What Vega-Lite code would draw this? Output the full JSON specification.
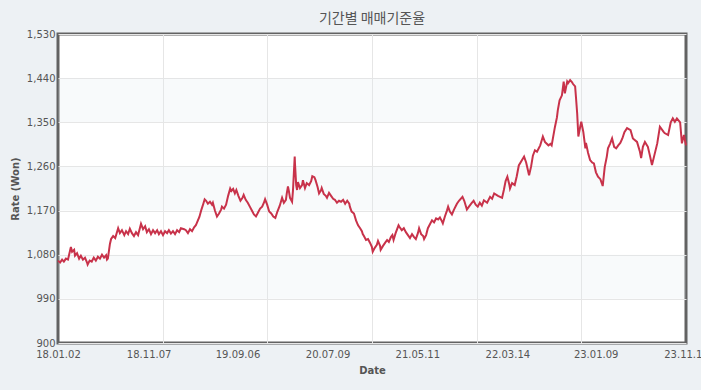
{
  "$schema": "https://vega.github.io/schema/vega-lite/v6.json",
  "width": 628,
  "height": 309,
  "autosize": {"type": "none"},
  "padding": {"left": 58, "top": 34, "right": 15, "bottom": 47},
  "background": "#edf1f4",
  "title": {"text": "기간별 매매기준율", "font": "Noto Sans CJK KR", "fontSize": 14, "fontWeight": "normal", "color": "#555555", "anchor": "middle", "frame": "group", "offset": 3},
  "config": {
    "view": {"fill": "#ffffff", "stroke": "#626262", "strokeWidth": 3},
    "axis": {"labelFont": "DejaVu Sans", "labelFontSize": 10, "labelColor": "#555555", "titleFont": "DejaVu Sans", "titleFontSize": 10, "titleFontWeight": "bold", "titleColor": "#555555", "ticks": false, "domain": false, "gridColor": "#e6e6e6", "gridWidth": 1}
  },
  "datasets": {
    "bands": [{"lo": 990, "hi": 1080}, {"lo": 1170, "hi": 1260}, {"lo": 1350, "hi": 1440}],
    "rates": [
      {"date": "2018-01-02", "rate": 1068}, {"date": "2018-01-09", "rate": 1064}, {"date": "2018-01-16", "rate": 1070}, {"date": "2018-01-22", "rate": 1066}, {"date": "2018-01-29", "rate": 1072}, {"date": "2018-02-05", "rate": 1070}, {"date": "2018-02-12", "rate": 1088}, {"date": "2018-02-15", "rate": 1096}, {"date": "2018-02-19", "rate": 1086}, {"date": "2018-02-26", "rate": 1090}, {"date": "2018-03-01", "rate": 1078}, {"date": "2018-03-08", "rate": 1083}, {"date": "2018-03-15", "rate": 1072}, {"date": "2018-03-21", "rate": 1078}, {"date": "2018-03-28", "rate": 1070}, {"date": "2018-04-04", "rate": 1074}, {"date": "2018-04-11", "rate": 1064}, {"date": "2018-04-13", "rate": 1060}, {"date": "2018-04-20", "rate": 1068}, {"date": "2018-04-27", "rate": 1066}, {"date": "2018-05-04", "rate": 1074}, {"date": "2018-05-11", "rate": 1068}, {"date": "2018-05-18", "rate": 1076}, {"date": "2018-05-25", "rate": 1072}, {"date": "2018-06-01", "rate": 1080}, {"date": "2018-06-08", "rate": 1074}, {"date": "2018-06-15", "rate": 1079}, {"date": "2018-06-18", "rate": 1070}, {"date": "2018-06-21", "rate": 1072}, {"date": "2018-06-28", "rate": 1102}, {"date": "2018-07-02", "rate": 1112}, {"date": "2018-07-09", "rate": 1118}, {"date": "2018-07-16", "rate": 1114}, {"date": "2018-07-23", "rate": 1128}, {"date": "2018-07-26", "rate": 1134}, {"date": "2018-08-01", "rate": 1124}, {"date": "2018-08-08", "rate": 1130}, {"date": "2018-08-16", "rate": 1120}, {"date": "2018-08-22", "rate": 1128}, {"date": "2018-08-29", "rate": 1122}, {"date": "2018-09-04", "rate": 1133}, {"date": "2018-09-11", "rate": 1124}, {"date": "2018-09-18", "rate": 1118}, {"date": "2018-09-25", "rate": 1126}, {"date": "2018-10-02", "rate": 1120}, {"date": "2018-10-09", "rate": 1136}, {"date": "2018-10-12", "rate": 1143}, {"date": "2018-10-19", "rate": 1132}, {"date": "2018-10-26", "rate": 1138}, {"date": "2018-11-01", "rate": 1126}, {"date": "2018-11-08", "rate": 1132}, {"date": "2018-11-15", "rate": 1122}, {"date": "2018-11-22", "rate": 1130}, {"date": "2018-11-29", "rate": 1124}, {"date": "2018-12-06", "rate": 1130}, {"date": "2018-12-12", "rate": 1122}, {"date": "2018-12-19", "rate": 1128}, {"date": "2018-12-26", "rate": 1120}, {"date": "2019-01-02", "rate": 1128}, {"date": "2019-01-09", "rate": 1124}, {"date": "2019-01-15", "rate": 1130}, {"date": "2019-01-22", "rate": 1123}, {"date": "2019-01-29", "rate": 1128}, {"date": "2019-02-05", "rate": 1122}, {"date": "2019-02-12", "rate": 1130}, {"date": "2019-02-19", "rate": 1126}, {"date": "2019-02-25", "rate": 1134}, {"date": "2019-03-08", "rate": 1132}, {"date": "2019-03-14", "rate": 1130}, {"date": "2019-03-21", "rate": 1124}, {"date": "2019-03-28", "rate": 1132}, {"date": "2019-04-04", "rate": 1128}, {"date": "2019-04-11", "rate": 1136}, {"date": "2019-04-17", "rate": 1140}, {"date": "2019-04-24", "rate": 1150}, {"date": "2019-04-29", "rate": 1157}, {"date": "2019-05-06", "rate": 1172}, {"date": "2019-05-13", "rate": 1185}, {"date": "2019-05-17", "rate": 1193}, {"date": "2019-05-22", "rate": 1190}, {"date": "2019-05-28", "rate": 1184}, {"date": "2019-06-04", "rate": 1188}, {"date": "2019-06-11", "rate": 1182}, {"date": "2019-06-14", "rate": 1186}, {"date": "2019-06-21", "rate": 1170}, {"date": "2019-06-28", "rate": 1158}, {"date": "2019-07-05", "rate": 1164}, {"date": "2019-07-12", "rate": 1172}, {"date": "2019-07-15", "rate": 1178}, {"date": "2019-07-22", "rate": 1174}, {"date": "2019-07-29", "rate": 1182}, {"date": "2019-08-05", "rate": 1200}, {"date": "2019-08-12", "rate": 1215}, {"date": "2019-08-16", "rate": 1210}, {"date": "2019-08-22", "rate": 1214}, {"date": "2019-08-28", "rate": 1205}, {"date": "2019-09-02", "rate": 1212}, {"date": "2019-09-09", "rate": 1200}, {"date": "2019-09-16", "rate": 1190}, {"date": "2019-09-23", "rate": 1196}, {"date": "2019-09-27", "rate": 1202}, {"date": "2019-10-04", "rate": 1192}, {"date": "2019-10-11", "rate": 1186}, {"date": "2019-10-18", "rate": 1178}, {"date": "2019-10-25", "rate": 1170}, {"date": "2019-11-01", "rate": 1162}, {"date": "2019-11-08", "rate": 1158}, {"date": "2019-11-15", "rate": 1166}, {"date": "2019-11-22", "rate": 1174}, {"date": "2019-11-29", "rate": 1178}, {"date": "2019-12-05", "rate": 1186}, {"date": "2019-12-09", "rate": 1193}, {"date": "2019-12-16", "rate": 1182}, {"date": "2019-12-23", "rate": 1168}, {"date": "2019-12-30", "rate": 1164}, {"date": "2020-01-06", "rate": 1158}, {"date": "2020-01-13", "rate": 1155}, {"date": "2020-01-20", "rate": 1168}, {"date": "2020-01-28", "rate": 1180}, {"date": "2020-02-03", "rate": 1192}, {"date": "2020-02-05", "rate": 1196}, {"date": "2020-02-11", "rate": 1186}, {"date": "2020-02-18", "rate": 1192}, {"date": "2020-02-21", "rate": 1205}, {"date": "2020-02-25", "rate": 1219}, {"date": "2020-02-28", "rate": 1210}, {"date": "2020-03-03", "rate": 1196}, {"date": "2020-03-10", "rate": 1188}, {"date": "2020-03-13", "rate": 1210}, {"date": "2020-03-19", "rate": 1280}, {"date": "2020-03-20", "rate": 1265}, {"date": "2020-03-24", "rate": 1222}, {"date": "2020-03-27", "rate": 1212}, {"date": "2020-03-30", "rate": 1228}, {"date": "2020-04-06", "rate": 1216}, {"date": "2020-04-13", "rate": 1222}, {"date": "2020-04-16", "rate": 1232}, {"date": "2020-04-23", "rate": 1216}, {"date": "2020-04-29", "rate": 1226}, {"date": "2020-05-07", "rate": 1222}, {"date": "2020-05-14", "rate": 1230}, {"date": "2020-05-18", "rate": 1240}, {"date": "2020-05-25", "rate": 1238}, {"date": "2020-05-29", "rate": 1232}, {"date": "2020-06-05", "rate": 1218}, {"date": "2020-06-10", "rate": 1205}, {"date": "2020-06-17", "rate": 1212}, {"date": "2020-06-19", "rate": 1216}, {"date": "2020-06-26", "rate": 1204}, {"date": "2020-07-03", "rate": 1200}, {"date": "2020-07-07", "rate": 1196}, {"date": "2020-07-14", "rate": 1206}, {"date": "2020-07-21", "rate": 1200}, {"date": "2020-07-28", "rate": 1194}, {"date": "2020-08-03", "rate": 1192}, {"date": "2020-08-10", "rate": 1186}, {"date": "2020-08-17", "rate": 1190}, {"date": "2020-08-24", "rate": 1188}, {"date": "2020-08-31", "rate": 1192}, {"date": "2020-09-07", "rate": 1184}, {"date": "2020-09-14", "rate": 1190}, {"date": "2020-09-21", "rate": 1184}, {"date": "2020-09-23", "rate": 1178}, {"date": "2020-09-29", "rate": 1168}, {"date": "2020-10-07", "rate": 1164}, {"date": "2020-10-14", "rate": 1150}, {"date": "2020-10-21", "rate": 1140}, {"date": "2020-10-28", "rate": 1134}, {"date": "2020-11-03", "rate": 1128}, {"date": "2020-11-06", "rate": 1122}, {"date": "2020-11-10", "rate": 1118}, {"date": "2020-11-17", "rate": 1110}, {"date": "2020-11-24", "rate": 1112}, {"date": "2020-12-01", "rate": 1104}, {"date": "2020-12-07", "rate": 1096}, {"date": "2020-12-10", "rate": 1086}, {"date": "2020-12-17", "rate": 1094}, {"date": "2020-12-24", "rate": 1100}, {"date": "2020-12-28", "rate": 1108}, {"date": "2021-01-04", "rate": 1098}, {"date": "2021-01-06", "rate": 1090}, {"date": "2021-01-14", "rate": 1098}, {"date": "2021-01-21", "rate": 1104}, {"date": "2021-01-28", "rate": 1110}, {"date": "2021-02-03", "rate": 1106}, {"date": "2021-02-10", "rate": 1116}, {"date": "2021-02-15", "rate": 1120}, {"date": "2021-02-19", "rate": 1110}, {"date": "2021-02-26", "rate": 1124}, {"date": "2021-03-08", "rate": 1140}, {"date": "2021-03-12", "rate": 1136}, {"date": "2021-03-19", "rate": 1130}, {"date": "2021-03-26", "rate": 1134}, {"date": "2021-04-02", "rate": 1126}, {"date": "2021-04-09", "rate": 1120}, {"date": "2021-04-16", "rate": 1114}, {"date": "2021-04-23", "rate": 1122}, {"date": "2021-04-30", "rate": 1116}, {"date": "2021-05-06", "rate": 1112}, {"date": "2021-05-13", "rate": 1124}, {"date": "2021-05-17", "rate": 1134}, {"date": "2021-05-24", "rate": 1122}, {"date": "2021-05-31", "rate": 1118}, {"date": "2021-06-03", "rate": 1112}, {"date": "2021-06-10", "rate": 1120}, {"date": "2021-06-16", "rate": 1134}, {"date": "2021-06-23", "rate": 1142}, {"date": "2021-06-30", "rate": 1150}, {"date": "2021-07-07", "rate": 1146}, {"date": "2021-07-14", "rate": 1154}, {"date": "2021-07-21", "rate": 1152}, {"date": "2021-07-27", "rate": 1156}, {"date": "2021-08-03", "rate": 1148}, {"date": "2021-08-06", "rate": 1144}, {"date": "2021-08-13", "rate": 1158}, {"date": "2021-08-20", "rate": 1170}, {"date": "2021-08-24", "rate": 1178}, {"date": "2021-08-30", "rate": 1168}, {"date": "2021-09-06", "rate": 1162}, {"date": "2021-09-13", "rate": 1172}, {"date": "2021-09-23", "rate": 1184}, {"date": "2021-09-30", "rate": 1190}, {"date": "2021-10-12", "rate": 1198}, {"date": "2021-10-18", "rate": 1190}, {"date": "2021-10-27", "rate": 1172}, {"date": "2021-11-03", "rate": 1178}, {"date": "2021-11-12", "rate": 1185}, {"date": "2021-11-19", "rate": 1190}, {"date": "2021-11-26", "rate": 1182}, {"date": "2021-12-03", "rate": 1178}, {"date": "2021-12-10", "rate": 1186}, {"date": "2021-12-17", "rate": 1180}, {"date": "2021-12-24", "rate": 1191}, {"date": "2022-01-04", "rate": 1186}, {"date": "2022-01-14", "rate": 1198}, {"date": "2022-01-21", "rate": 1194}, {"date": "2022-01-28", "rate": 1205}, {"date": "2022-02-10", "rate": 1200}, {"date": "2022-02-24", "rate": 1196}, {"date": "2022-03-02", "rate": 1212}, {"date": "2022-03-08", "rate": 1230}, {"date": "2022-03-14", "rate": 1239}, {"date": "2022-03-21", "rate": 1222}, {"date": "2022-03-23", "rate": 1215}, {"date": "2022-03-30", "rate": 1226}, {"date": "2022-04-08", "rate": 1222}, {"date": "2022-04-15", "rate": 1240}, {"date": "2022-04-22", "rate": 1262}, {"date": "2022-05-03", "rate": 1273}, {"date": "2022-05-10", "rate": 1280}, {"date": "2022-05-17", "rate": 1268}, {"date": "2022-05-27", "rate": 1242}, {"date": "2022-06-03", "rate": 1260}, {"date": "2022-06-09", "rate": 1282}, {"date": "2022-06-16", "rate": 1293}, {"date": "2022-06-23", "rate": 1290}, {"date": "2022-07-04", "rate": 1303}, {"date": "2022-07-13", "rate": 1321}, {"date": "2022-07-20", "rate": 1310}, {"date": "2022-08-01", "rate": 1303}, {"date": "2022-08-08", "rate": 1306}, {"date": "2022-08-12", "rate": 1303}, {"date": "2022-08-23", "rate": 1340}, {"date": "2022-08-30", "rate": 1360}, {"date": "2022-09-02", "rate": 1375}, {"date": "2022-09-08", "rate": 1395}, {"date": "2022-09-16", "rate": 1405}, {"date": "2022-09-22", "rate": 1433}, {"date": "2022-09-26", "rate": 1409}, {"date": "2022-10-04", "rate": 1433}, {"date": "2022-10-07", "rate": 1430}, {"date": "2022-10-14", "rate": 1436}, {"date": "2022-10-20", "rate": 1432}, {"date": "2022-10-24", "rate": 1428}, {"date": "2022-10-31", "rate": 1423}, {"date": "2022-11-03", "rate": 1400}, {"date": "2022-11-07", "rate": 1368}, {"date": "2022-11-11", "rate": 1321}, {"date": "2022-11-17", "rate": 1340}, {"date": "2022-11-21", "rate": 1351}, {"date": "2022-11-28", "rate": 1330}, {"date": "2022-12-05", "rate": 1297}, {"date": "2022-12-07", "rate": 1308}, {"date": "2022-12-14", "rate": 1288}, {"date": "2022-12-21", "rate": 1273}, {"date": "2022-12-28", "rate": 1268}, {"date": "2023-01-03", "rate": 1266}, {"date": "2023-01-10", "rate": 1248}, {"date": "2023-01-17", "rate": 1239}, {"date": "2023-01-25", "rate": 1234}, {"date": "2023-01-31", "rate": 1224}, {"date": "2023-02-02", "rate": 1220}, {"date": "2023-02-09", "rate": 1259}, {"date": "2023-02-16", "rate": 1280}, {"date": "2023-02-20", "rate": 1297}, {"date": "2023-02-27", "rate": 1306}, {"date": "2023-03-06", "rate": 1317}, {"date": "2023-03-13", "rate": 1300}, {"date": "2023-03-20", "rate": 1297}, {"date": "2023-03-27", "rate": 1303}, {"date": "2023-04-03", "rate": 1308}, {"date": "2023-04-10", "rate": 1317}, {"date": "2023-04-17", "rate": 1330}, {"date": "2023-04-26", "rate": 1338}, {"date": "2023-05-08", "rate": 1334}, {"date": "2023-05-16", "rate": 1317}, {"date": "2023-05-30", "rate": 1310}, {"date": "2023-06-09", "rate": 1290}, {"date": "2023-06-13", "rate": 1277}, {"date": "2023-06-19", "rate": 1300}, {"date": "2023-06-26", "rate": 1310}, {"date": "2023-07-06", "rate": 1300}, {"date": "2023-07-13", "rate": 1282}, {"date": "2023-07-20", "rate": 1263}, {"date": "2023-07-27", "rate": 1280}, {"date": "2023-08-07", "rate": 1307}, {"date": "2023-08-16", "rate": 1341}, {"date": "2023-08-28", "rate": 1331}, {"date": "2023-09-01", "rate": 1328}, {"date": "2023-09-13", "rate": 1324}, {"date": "2023-09-22", "rate": 1350}, {"date": "2023-09-29", "rate": 1358}, {"date": "2023-10-06", "rate": 1351}, {"date": "2023-10-13", "rate": 1358}, {"date": "2023-10-24", "rate": 1350}, {"date": "2023-10-30", "rate": 1307}, {"date": "2023-11-06", "rate": 1324}, {"date": "2023-11-13", "rate": 1303}
    ]
  },
  "layer": [
    {
      "data": {"name": "bands"},
      "mark": {"type": "rect", "fill": "#dde4ec", "opacity": 0.2},
      "encoding": {
        "y": {"field": "lo", "type": "quantitative", "title": "Rate (Won)", "scale": {"domain": [900, 1530], "nice": false, "zero": false},
          "axis": {"values": [900, 990, 1080, 1170, 1260, 1350, 1440, 1530], "format": ",.0f", "labelPadding": 3, "titlePadding": 6, "grid": true}},
        "y2": {"field": "hi"}
      }
    },
    {
      "data": {"name": "rates"},
      "mark": {"type": "line", "stroke": "#c8324a", "strokeWidth": 2},
      "encoding": {
        "x": {"field": "date", "type": "temporal", "title": "Date",
          "scale": {"type": "utc", "domain": [{"year": 2018, "month": 1, "date": 2, "utc": true}, {"year": 2023, "month": 11, "date": 13, "utc": true}]},
          "axis": {"values": [
            {"year": 2018, "month": 1, "date": 2, "utc": true},
            {"year": 2018, "month": 11, "date": 7, "utc": true},
            {"year": 2019, "month": 9, "date": 6, "utc": true},
            {"year": 2020, "month": 7, "date": 9, "utc": true},
            {"year": 2021, "month": 5, "date": 11, "utc": true},
            {"year": 2022, "month": 3, "date": 14, "utc": true},
            {"year": 2023, "month": 1, "date": 9, "utc": true},
            {"year": 2023, "month": 11, "date": 13, "utc": true}],
            "format": "%y.%m.%d", "grid": false, "labelFlush": false, "labelOverlap": false, "labelBound": false, "labelPadding": 6, "titlePadding": 6}},
        "y": {"field": "rate", "type": "quantitative", "title": "Rate (Won)"}
      }
    },
    {
      "data": {"name": "rates"},
      "mark": {"type": "line", "strokeOpacity": 0},
      "encoding": {
        "x": {"field": "date", "type": "temporal",
          "axis": {"orient": "bottom", "values": [
            {"year": 2018, "month": 12, "date": 25, "utc": true},
            {"year": 2019, "month": 12, "date": 17, "utc": true},
            {"year": 2020, "month": 12, "date": 8, "utc": true},
            {"year": 2021, "month": 11, "date": 29, "utc": true},
            {"year": 2022, "month": 11, "date": 21, "utc": true}],
            "grid": true, "labels": false, "title": null}},
        "y": {"field": "rate", "type": "quantitative", "title": "Rate (Won)"}
      }
    }
  ],
  "resolve": {"axis": {"x": "independent"}}
}
